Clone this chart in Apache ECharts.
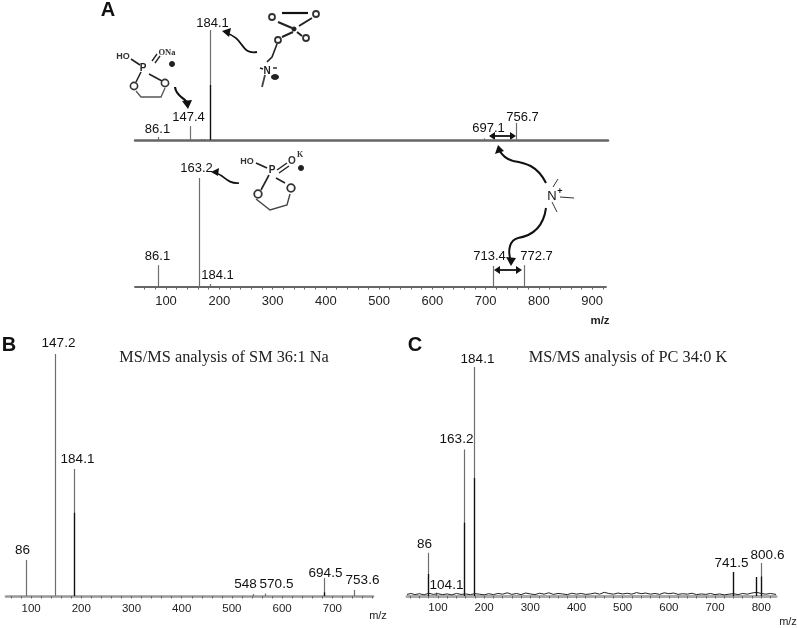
<!DOCTYPE html>
<html><head><meta charset="utf-8">
<style>html,body{margin:0;padding:0;background:#fff}#c{width:797px;height:628px}</style>
<script src="https://cdn.jsdelivr.net/npm/echarts@6/dist/echarts.min.js"></script>
</head><body><div id="c"></div>
<script>
// m/z position as read on each drawn axis, relative height (% of tallest peak), darker lower part (%), printed label
var aTopMz     = [85, 145, 165, 172, 182.6, 697, 757];
var aTopInt    = [2.7, 12.7, 1, 1, 100, 1.5, 15.5];
var aTopCore   = [0, 0, 0, 0, 50, 0, 0];
var aTopLabels = ['86.1', '147.4', '', '', '184.1', '697.1', '756.7'];

var aBotMz     = [84.4, 161.8, 182.6, 714, 772];
var aBotInt    = [20, 100, 2.8, 19.3, 20];
var aBotCore   = [0, 0, 0, 0, 0];
var aBotLabels = ['86.1', '163.2', '184.1', '713.4', '772.7'];

var bMz     = [89.4, 148.4, 185, 542, 565, 683, 744];
var bInt    = [14.9, 100, 52.5, 0.8, 1, 7.4, 2.5];
var bCore   = [0, 0, 34.4, 0, 0, 1.5, 0];
var bLabels = ['86', '147.2', '184.1', '548', '570.5', '694.5', '753.6'];

var cMz     = [78, 96, 155.7, 177.4, 739.3, 787.7, 799.4];
var cInt    = [18.9, 1.5, 64, 100, 10.5, 8.3, 14.4];
var cCore   = [9.6, 0, 32, 51.5, 10.5, 8.3, 8.5];
var cLabels = ['86', '104.1', '163.2', '184.1', '741.5', '', '800.6'];

// baseline trace of panel C, read by eye
var cNoiseMz  = [33,42,50,60,70,80,90,100,110,120,130,140,150,160,170,180,190,200,210,220,230,240,250,260,270,280,290,300,310,320,330,340,350,360,370,380,390,400,410,420,430,440,450,460,470,480,490,500,510,520,530,540,550,560,570,580,590,600,610,620,630,640,650,660,670,680,690,700,710,720,730,740,750,760,770,780,790,800,810,820,832];
var cNoiseInt = [.7,1.1,.6,1.0,.5,1.2,.7,1.0,.6,.9,.5,1.1,.7,.9,.6,1.0,.8,.5,1.0,.6,1.1,.8,1.4,.7,1.1,.6,1.3,.9,.6,1.2,.8,1.4,.7,1.1,.9,.6,1.2,.8,1.1,.7,.9,1.3,.8,1.6,1.1,.8,1.3,.9,1.2,.8,1.5,1.0,1.3,.8,1.1,.7,1.4,1.0,1.3,.7,1.0,.8,1.2,.6,.9,.7,1.1,.6,.9,.5,.8,1.0,.6,1.1,.8,1.3,1.6,1.1,.8,1.1,.7];

var axisLabelsAB = [100,200,300,400,500,600,700,800,900];
var axisLabelsB  = [100,200,300,400,500,600,700];
var axisLabelsC  = [100,200,300,400,500,600,700,800];
var minorA = [60,80,120,140,160,180,220,240,260,280,320,340,360,380,420,440,460,480,520,540,560,580,620,640,660,680,720,740,760,780,820,840,860,880,920];
var minorB = [60,80,120,140,160,180,220,240,260,280,320,340,360,380,420,440,460,480,520,540,560,580,620,640,660,680,720,740,760,780];
var minorC = [40,60,80,120,140,160,180,220,240,260,280,320,340,360,380,420,440,460,480,520,540,560,580,620,640,660,680,720,740,760,780,820];

// label offsets from each peak's top (styling, px)
var offsets = {
  aTop: [[-1,-8],[-2,-9],[0,0],[0,0],[2,-7],[4,-10],[6,-6]],
  aBot: [[-1,-9],[-3,-10],[7,-9],[-4,-10],[12,-9]],
  b:    [[-4,-10],[3,-11],[3,-10],[-8,-10],[11,-9],[1,-5],[8,-10]],
  c:    [[-4,-8],[10,-7],[-8,-10],[3,-8],[-2,-9],[0,0],[6,-8]]
};

var chart = echarts.init(document.getElementById('c'), null, {renderer:'canvas'});
var sans = '"Liberation Sans", Arial, sans-serif', serif = '"Liberation Serif", "Times New Roman", serif';

function peaks(gridIndex, mz, ints, core, labels, off, size) {
  return {
    type:'custom', xAxisIndex:gridIndex, yAxisIndex:gridIndex, silent:true, clip:false,
    encode:{x:0,y:1},
    data: mz.map(function(m,i){return [m,ints[i],core[i],i];}),
    renderItem:function(params,api){
      var i=api.value(3), base=api.coord([api.value(0),0]), top=api.coord([api.value(0),api.value(1)]);
      var x=Math.round(base[0])+0.5;
      var kids=[{type:'line',shape:{x1:x,y1:base[1],x2:x,y2:top[1]},style:{stroke:'#6e6e6e',lineWidth:1.2}}];
      if(api.value(2)>0){
        var mid=api.coord([api.value(0),api.value(2)]);
        kids.push({type:'line',shape:{x1:x,y1:base[1],x2:x,y2:mid[1]},style:{stroke:'#111',lineWidth:1.3}});
      }
      if(labels[i]) kids.push({type:'text',style:{x:x+off[i][0],y:top[1]+off[i][1],text:labels[i],fill:'#111',font:size+'px '+sans,align:'center',verticalAlign:'middle'}});
      return {type:'group',children:kids};
    }
  };
}

function xa(grid,min,max,labels,minor,color,width,fs,margin,noTicks){
  return {type:'value',gridIndex:grid,min:min,max:max,position:'bottom',
    splitLine:{show:false},
    axisLine:{show:true,onZero:false,lineStyle:{color:color,width:width}},
    axisTick:{show:!noTicks,length:2.5,customValues:labels.concat(minor),lineStyle:{color:'#666',width:1}},
    minorTick:{show:false},
    axisLabel:{show:!noTicks,customValues:labels,fontFamily:sans,fontSize:fs,color:'#222',margin:margin}};
}
function ya(grid){return {type:'value',gridIndex:grid,min:0,max:100,show:false};}

// annotation drawing helpers
var g=[];
function T(x,y,s,font,fill,align){g.push({type:'text',silent:true,style:{x:x,y:y,text:s,font:font,fill:fill||'#111',align:align||'center',verticalAlign:'middle'}});}
function L(pts,w,c){g.push({type:'polyline',silent:true,shape:{points:pts},style:{stroke:c||'#222',lineWidth:w||1.4,fill:null}});}
function C(x,y,r,w){g.push({type:'circle',silent:true,shape:{cx:x,cy:y,r:r},style:{stroke:'#333',lineWidth:w||1.5,fill:'#fff'}});}
function D(x,y,rx,ry){g.push({type:'ellipse',silent:true,shape:{cx:x,cy:y,rx:rx,ry:ry||rx},style:{fill:'#222'}});}
function B(x1,y1,a,b,c,d,x2,y2,w){g.push({type:'bezierCurve',silent:true,shape:{x1:x1,y1:y1,cpx1:a,cpy1:b,cpx2:c,cpy2:d,x2:x2,y2:y2},style:{stroke:'#111',lineWidth:w||2,fill:null}});}
function H(pts){g.push({type:'polygon',silent:true,shape:{points:pts},style:{fill:'#111'}});}

T(108,10,'A','bold 20px '+sans,'#111');
T(9,345,'B','bold 20px '+sans,'#111');
T(415,345,'C','bold 20px '+sans,'#111');
T(224,358,'MS/MS analysis of SM 36:1 Na','16.3px '+serif,'#222');
T(628,358,'MS/MS analysis of PC 34:0 K','16.3px '+serif,'#222');
T(600,321,'m/z','bold 11.5px '+sans,'#222');
T(378,616,'m/z','11px '+sans,'#222');
T(788,622,'m/z','11px '+sans,'#222');

// Na structure
L([[131,59],[140,65]],1.6);L([[152,61],[157,54]],1.3);L([[155,63],[160,56]],1.3);
L([[141,72],[136,82]],1.6);L([[149,74],[162,81]],1.6);L([[136,91],[141,97],[161,97],[165,88]],1.3,'#555');
C(134,86,3.6,1.6);C(165,83,3.6,1.6);
T(123,57,'HO','bold 9px '+sans,'#333');T(143,68,'P','bold 10px '+sans,'#222');
T(167,53,'ONa','bold 8.5px '+serif,'#333');D(172,64,3);
// choline structure
L([[282,13],[308,13]],2.2,'#111');L([[278,22],[292,28]],2);L([[299,26],[312,18]],2);L([[297,32],[302,36]],2);L([[293,32],[282,37]],2);
L([[277,44],[272,57],[267,62]],1.6);L([[265,75],[262,87]],1.8,'#444');L([[260,68],[263,69]],1.4);L([[273,68],[277,68]],1.4);
C(272,17,3,1.8);C(316,14,3,1.8);C(306,38,3,1.8);C(278,40,3,1.8);D(294,29,2.5);
T(267,71,'N','bold 10px '+sans,'#222');D(275,77,4,3);
// K structure
L([[256,163],[267,168]],1.8);L([[277,170],[287,163]],1.4);L([[279,173],[289,166]],1.4);
L([[269,175],[261,190]],1.6);L([[276,178],[285,183]],1.6);L([[256,199],[270,210],[287,205],[290,194]],1.4,'#444');
C(258,194,3.8,1.8);C(291,188,3.8,1.8);
T(247,162,'HO','bold 9px '+sans,'#333');T(272,170,'P','bold 10px '+sans,'#222');
T(292,161,'O','bold 10px '+sans,'#333');T(300,155,'K','bold 8px '+serif,'#333');D(301,168,3);
// N+ fragment
T(552,196,'N','13px '+sans,'#111');T(560,192,'+','bold 9px '+sans,'#111');
L([[553,187],[558,179]],1,'#333');L([[560,197],[574,198]],1,'#333');L([[552,202],[557,212]],1,'#333');
// curved arrows
B(546,183,537,165,525,163,513,161,2);B(513,161,505,159,502,154,498,149,2);H([[498,145],[495,154],[504,151]]);
B(546,208,543,230,530,236,518,238,2);B(518,238,510,240,507,250,511,261,2);H([[511,266],[506,257],[516,258]]);
B(257,52,240,55,245,38,226,33,1.8);H([[222,31],[231,28],[229,37]]);
B(175,87,176,97,186,98,187,103,2.2);H([[188,109],[182,101],[192,100]]);
B(239,183,226,184,224,174,215,173,1.7);H([[211,172],[219,168],[218,176]]);
// double arrows
L([[491,136],[514,136]],1.8,'#111');H([[489,136],[495,132],[495,140]]);H([[516,136],[510,132],[510,140]]);
L([[496,270],[520,270]],1.8,'#111');H([[494,270],[500,266],[500,274]]);H([[522,270],[516,266],[516,274]]);

chart.setOption({
  animation:false,backgroundColor:'#fff',
  grid:[
    {left:135,width:473,top:30,height:110},
    {left:135,width:471,top:178,height:109},
    {left:6,width:367,top:354,height:242},
    {left:407,width:369,top:367,height:229}
  ],
  xAxis:[
    xa(0,41.8,930,axisLabelsAB,minorA,'#666',2.5,13,0,true),
    xa(1,41.8,926,axisLabelsAB,minorA,'#666',1.8,13,8,false),
    xa(2,50,781,axisLabelsB,minorB,'#999',2.6,11.5,7,false),
    xa(3,33,832,axisLabelsC,minorC,'#aaa',3,11.5,6,false)
  ],
  yAxis:[ya(0),ya(1),ya(2),ya(3)],
  graphic:{elements:g},
  series:[
    peaks(0,aTopMz,aTopInt,aTopCore,aTopLabels,offsets.aTop,13),
    peaks(1,aBotMz,aBotInt,aBotCore,aBotLabels,offsets.aBot,13),
    peaks(2,bMz,bInt,bCore,bLabels,offsets.b,13.5),
    peaks(3,cMz,cInt,cCore,cLabels,offsets.c,13.5),
    {type:'line',xAxisIndex:3,yAxisIndex:3,showSymbol:false,silent:true,
     data:cNoiseMz.map(function(m,i){return [m,cNoiseInt[i]];}),
     lineStyle:{color:'#222',width:1}}
  ]
});
</script></body></html>
